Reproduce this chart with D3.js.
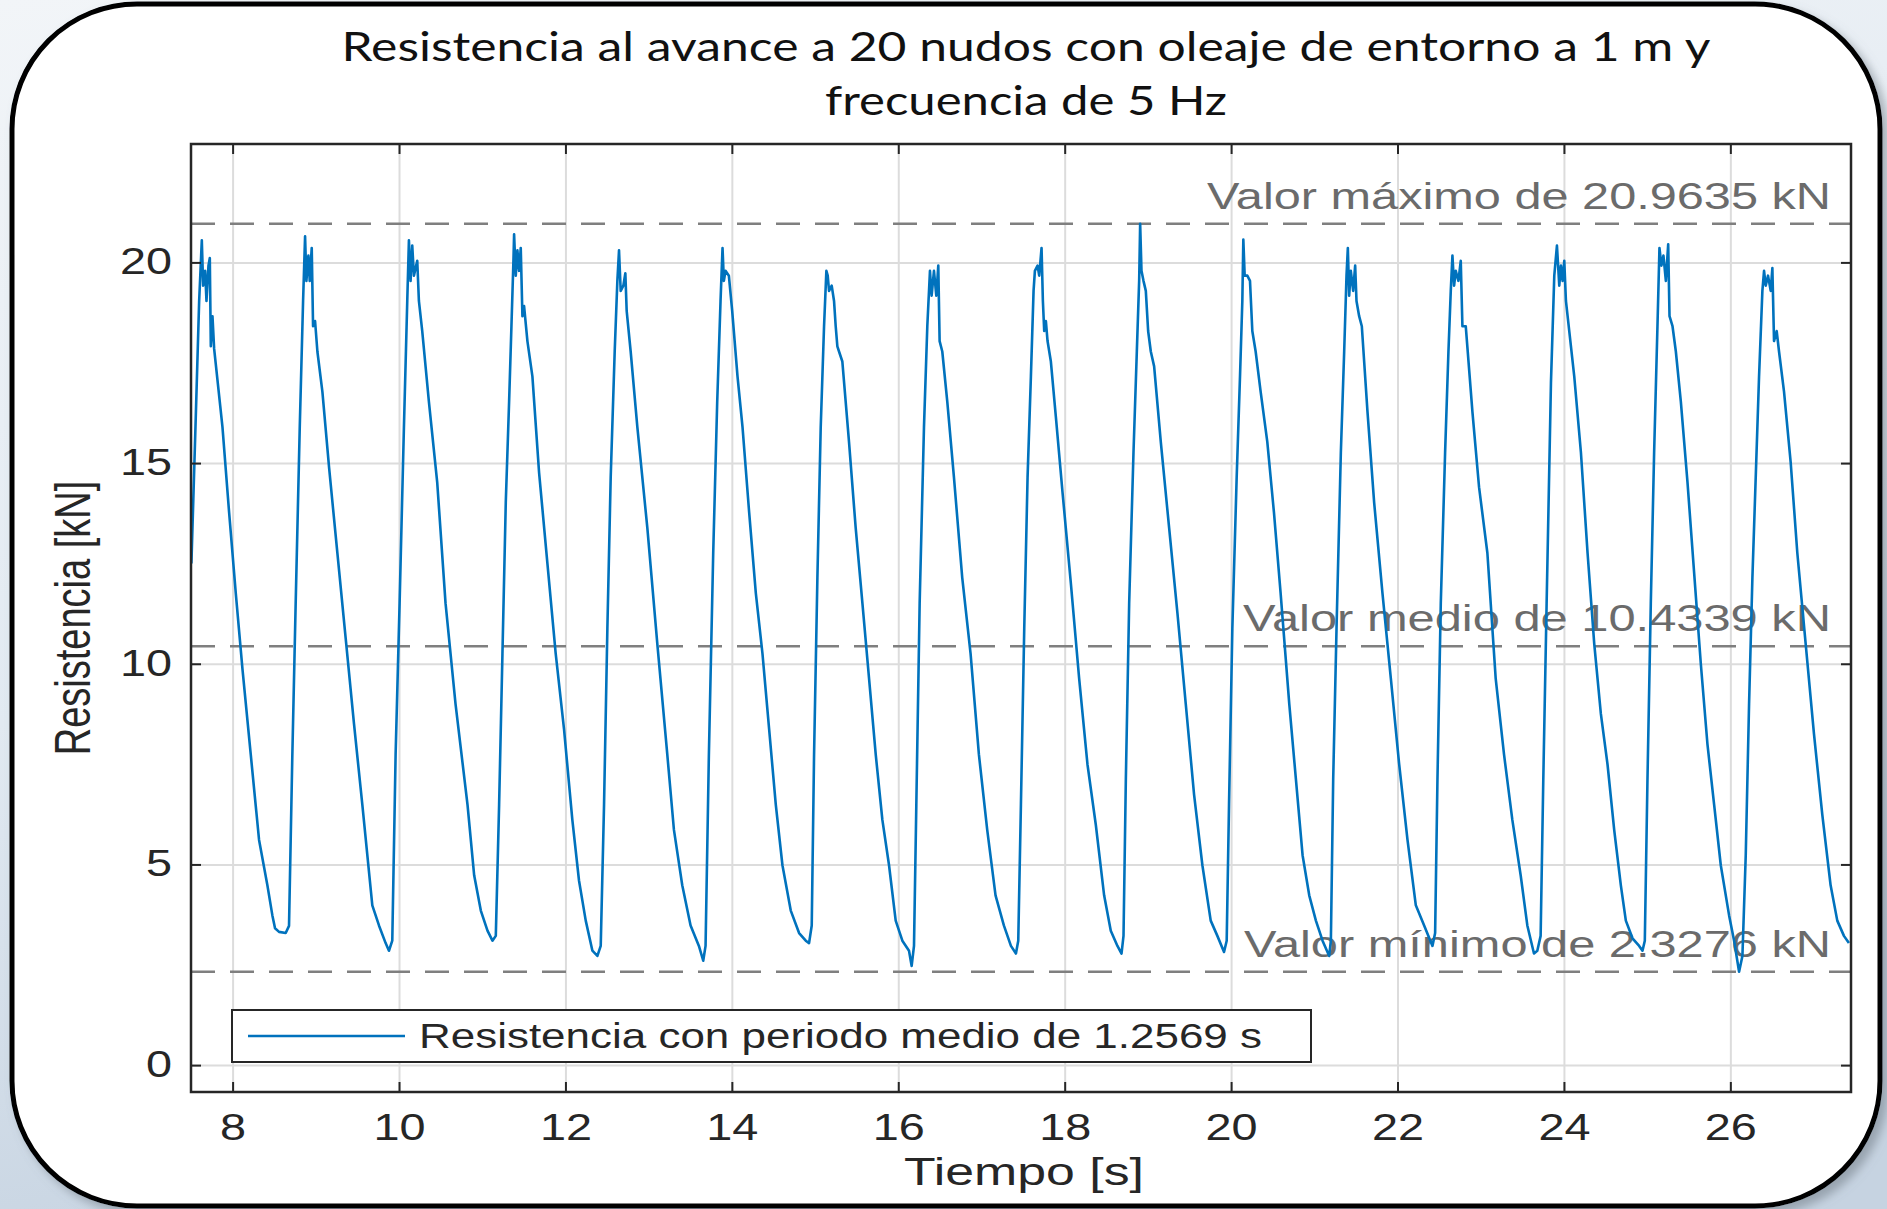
<!DOCTYPE html>
<html>
<head>
<meta charset="utf-8">
<script src="https://cdn.jsdelivr.net/npm/d3@7"></script>
<style>
	html, body { margin: 0; padding: 0; background: #e3eaf1; }
	svg { display: block; }
</style>
</head>
<body>
<svg id="chart"></svg>
<script>
// texts
const titleLines = [
	"Resistencia al avance a 20 nudos con oleaje de entorno a 1 m y",
	"frecuencia de 5 Hz",
];
const xLabel = "Tiempo [s]";
const yLabel = "Resistencia [kN]";
const legendLabel = "Resistencia con periodo medio de 1.2569 s";

// ticks
const xTicks = [8, 10, 12, 14, 16, 18, 20, 22, 24, 26];
const yTicks = [0, 5, 10, 15, 20];

// dashed reference lines
const refValues = [20.9635, 10.4339, 2.3276];
const refLabels = [
	"Valor máximo de 20.9635 kN",
	"Valor medio de 10.4339 kN",
	"Valor mínimo de 2.3276 kN",
];

// [time s, resistance kN], one row per wave cycle
const samples = [
	[7.505, 12.5], [7.558, 16.2], [7.598, 19.04], [7.63, 20.55], [7.646, 19.42], [7.67, 19.79], [7.686, 19.04], [7.71, 19.92], [7.726, 20.11], [7.738, 17.91], [7.758, 18.66], [7.778, 17.85], [7.878, 15.9], [7.958, 13.77], [8.038, 11.76], [8.118, 9.88], [8.218, 7.74], [8.318, 5.61], [8.418, 4.48], [8.478, 3.73], [8.51, 3.41], [8.558, 3.32], [8.638, 3.29], [8.678, 3.47],
	[8.718, 7.74], [8.758, 11.51], [8.807, 15.9], [8.847, 19.04], [8.871, 20.65], [8.887, 19.54], [8.911, 20.17], [8.927, 19.54], [8.951, 20.36], [8.967, 18.41], [8.991, 18.54], [9.019, 17.78], [9.079, 16.78], [9.159, 14.9], [9.259, 12.76], [9.359, 10.63], [9.459, 8.5], [9.559, 6.49], [9.679, 3.98], [9.759, 3.48], [9.839, 3.04], [9.879, 2.85], [9.919, 3.1],
	[9.959, 7.74], [10.007, 11.51], [10.059, 15.9], [10.099, 19.04], [10.119, 20.55], [10.139, 19.54], [10.159, 20.42], [10.179, 19.67], [10.219, 20.04], [10.239, 19.04], [10.279, 18.29], [10.359, 16.53], [10.459, 14.52], [10.559, 11.51], [10.679, 9.0], [10.823, 6.49], [10.903, 4.73], [10.983, 3.85], [11.063, 3.35], [11.123, 3.1], [11.163, 3.22],
	[11.203, 6.49], [11.243, 10.25], [11.283, 14.02], [11.323, 16.53], [11.351, 18.41], [11.375, 20.04], [11.383, 20.7], [11.403, 19.67], [11.423, 20.3], [11.443, 19.79], [11.463, 20.36], [11.483, 18.66], [11.503, 18.91], [11.543, 18.04], [11.603, 17.16], [11.683, 14.77], [11.783, 12.51], [11.883, 10.25], [11.983, 8.37], [12.083, 6.11], [12.163, 4.6], [12.244, 3.6], [12.324, 2.85], [12.384, 2.72], [12.424, 2.97],
	[12.464, 6.49], [12.504, 10.88], [12.544, 14.65], [12.592, 17.78], [12.624, 19.54], [12.644, 20.3], [12.664, 19.29], [12.696, 19.42], [12.72, 19.73], [12.736, 18.79], [12.784, 17.78], [12.864, 15.9], [12.984, 13.39], [13.104, 10.5], [13.224, 7.74], [13.304, 5.86], [13.404, 4.48], [13.504, 3.48], [13.604, 2.97], [13.656, 2.6], [13.684, 2.97],
	[13.724, 7.74], [13.776, 12.76], [13.824, 16.53], [13.864, 19.04], [13.888, 20.36], [13.904, 19.54], [13.924, 19.79], [13.964, 19.67], [14.004, 18.79], [14.068, 17.16], [14.128, 15.9], [14.208, 13.77], [14.288, 11.76], [14.368, 10.25], [14.448, 8.37], [14.528, 6.49], [14.608, 4.98], [14.708, 3.85], [14.808, 3.29], [14.888, 3.1], [14.928, 3.04], [14.96, 3.48],
	[14.988, 7.74], [15.028, 12.14], [15.068, 15.9], [15.108, 18.41], [15.136, 19.79], [15.152, 19.67], [15.168, 19.29], [15.2, 19.42], [15.228, 19.04], [15.248, 18.41], [15.268, 17.91], [15.288, 17.78], [15.328, 17.53], [15.408, 15.53], [15.488, 13.39], [15.569, 11.51], [15.649, 9.63], [15.729, 7.74], [15.809, 6.11], [15.889, 4.98], [15.969, 3.6], [16.049, 3.1], [16.129, 2.85], [16.161, 2.47], [16.189, 2.97],
	[16.217, 6.49], [16.257, 11.51], [16.309, 15.9], [16.349, 18.41], [16.381, 19.79], [16.401, 19.17], [16.429, 19.79], [16.457, 19.17], [16.481, 19.92], [16.497, 18.04], [16.529, 17.78], [16.589, 16.53], [16.669, 14.65], [16.769, 12.14], [16.869, 10.25], [16.969, 7.74], [17.069, 5.86], [17.169, 4.23], [17.269, 3.48], [17.354, 2.97], [17.414, 2.78], [17.442, 3.1],
	[17.474, 6.49], [17.514, 10.88], [17.554, 14.65], [17.594, 17.16], [17.626, 19.29], [17.642, 19.79], [17.674, 19.92], [17.694, 19.67], [17.722, 20.36], [17.738, 19.04], [17.754, 18.29], [17.774, 18.54], [17.794, 18.04], [17.834, 17.53], [17.894, 16.15], [17.974, 14.27], [18.074, 12.01], [18.174, 9.63], [18.274, 7.49], [18.374, 5.99], [18.474, 4.23], [18.554, 3.35], [18.634, 2.97], [18.683, 2.78], [18.707, 3.22],
	[18.735, 7.12], [18.775, 11.51], [18.827, 15.27], [18.867, 17.78], [18.895, 19.54], [18.907, 20.9635], [18.923, 19.79], [18.947, 19.54], [18.975, 19.29], [19.003, 18.29], [19.035, 17.78], [19.075, 17.41], [19.155, 15.53], [19.255, 13.39], [19.355, 11.26], [19.455, 9.0], [19.555, 6.74], [19.655, 4.98], [19.755, 3.6], [19.835, 3.22], [19.915, 2.82], [19.947, 3.1],
	[19.975, 6.49], [20.015, 10.88], [20.067, 14.65], [20.107, 17.16], [20.135, 19.04], [20.147, 20.57], [20.163, 19.67], [20.195, 19.67], [20.227, 19.54], [20.255, 18.29], [20.295, 17.78], [20.355, 16.78], [20.435, 15.53], [20.515, 13.77], [20.595, 11.76], [20.699, 9.0], [20.779, 7.12], [20.859, 5.23], [20.939, 4.23], [21.019, 3.6], [21.099, 3.1], [21.179, 2.72], [21.199, 3.1],
	[21.227, 7.12], [21.267, 10.88], [21.319, 15.27], [21.359, 17.78], [21.387, 19.67], [21.403, 20.36], [21.419, 19.17], [21.439, 19.79], [21.467, 19.29], [21.491, 19.92], [21.507, 19.04], [21.539, 18.66], [21.571, 18.41], [21.639, 16.28], [21.719, 14.02], [21.819, 11.76], [21.92, 9.63], [22.02, 7.49], [22.12, 5.61], [22.22, 3.98], [22.32, 3.48], [22.42, 2.97], [22.452, 3.29],
	[22.48, 7.12], [22.52, 11.51], [22.572, 15.27], [22.612, 17.78], [22.64, 19.29], [22.66, 20.17], [22.68, 19.42], [22.7, 19.79], [22.732, 19.54], [22.76, 20.04], [22.78, 18.41], [22.82, 18.41], [22.9, 16.28], [22.98, 14.4], [23.08, 12.76], [23.18, 9.63], [23.28, 7.74], [23.38, 6.11], [23.48, 4.73], [23.56, 3.48], [23.64, 2.78], [23.68, 2.85], [23.72, 3.22],
	[23.752, 7.12], [23.792, 11.51], [23.844, 17.0], [23.884, 19.67], [23.916, 20.42], [23.944, 19.42], [23.964, 19.92], [23.984, 19.54], [24.004, 20.04], [24.024, 19.04], [24.064, 18.29], [24.124, 17.16], [24.204, 15.27], [24.284, 12.76], [24.364, 10.5], [24.444, 8.75], [24.524, 7.49], [24.604, 5.86], [24.684, 4.48], [24.744, 3.6], [24.824, 3.16], [24.904, 2.97], [24.944, 2.85], [24.972, 3.1],
	[25.004, 7.12], [25.044, 11.51], [25.084, 15.27], [25.124, 18.41], [25.148, 20.36], [25.172, 19.92], [25.196, 20.17], [25.225, 19.54], [25.253, 20.45], [25.269, 18.66], [25.305, 18.41], [25.345, 17.78], [25.405, 16.53], [25.485, 14.52], [25.565, 12.26], [25.645, 10.0], [25.725, 7.99], [25.805, 6.49], [25.885, 4.98], [25.985, 3.73], [26.045, 3.1], [26.105, 2.3276], [26.145, 2.72],
	[26.185, 5.23], [26.225, 9.0], [26.265, 12.14], [26.305, 14.65], [26.345, 17.16], [26.385, 19.29], [26.405, 19.79], [26.425, 19.42], [26.453, 19.67], [26.485, 19.29], [26.505, 19.86], [26.525, 18.04], [26.557, 18.29], [26.585, 17.78], [26.645, 16.78], [26.725, 15.02], [26.805, 12.76], [26.905, 10.5], [27.005, 8.25], [27.105, 6.24], [27.205, 4.48], [27.285, 3.6], [27.365, 3.22], [27.425, 3.04],
];

const W = 1887, H = 1209;
const plot = { left: 191, right: 1851, top: 144, bottom: 1092 };
const stretch = 1.3; // the original picture is widened horizontally
const axisColor = "#262626";
const sans = "'Liberation Sans', Arial, Helvetica, sans-serif";

const svg = d3.select("#chart").attr("width", W).attr("height", H);
const defs = svg.append("defs");

const bg = defs.append("linearGradient").attr("id", "bg").attr("x1", 0).attr("y1", 0).attr("x2", 0.3).attr("y2", 1);
bg.append("stop").attr("offset", "0%").attr("stop-color", "#f2f5f8");
bg.append("stop").attr("offset", "55%").attr("stop-color", "#e1e9f1");
bg.append("stop").attr("offset", "100%").attr("stop-color", "#c6d3e1");

const shadow = defs.append("filter").attr("id", "shadow").attr("x", "-5%").attr("y", "-5%").attr("width", "110%").attr("height", "110%");
shadow.append("feDropShadow").attr("dx", 6).attr("dy", 6).attr("stdDeviation", 5)
	.attr("flood-color", "#6f7b86").attr("flood-opacity", 0.55);

defs.append("clipPath").attr("id", "plotClip").append("rect")
	.attr("x", plot.left).attr("y", plot.top)
	.attr("width", plot.right - plot.left).attr("height", plot.bottom - plot.top);

svg.append("rect").attr("width", W).attr("height", H).attr("fill", "url(#bg)");

// rounded card
svg.append("rect")
	.attr("x", 12).attr("y", 4).attr("width", 1868).attr("height", 1202)
	.attr("rx", 125).attr("ry", 125)
	.attr("fill", "#fff").attr("stroke", "#000").attr("stroke-width", 5)
	.attr("filter", "url(#shadow)");

// title
const titleY = [61, 115];
const titleW = [1369, 402];
titleLines.forEach((t, i) => {
	svg.append("text")
		.attr("x", 1026 - titleW[i] / 2).attr("y", titleY[i])
		.attr("textLength", titleW[i]).attr("lengthAdjust", "spacingAndGlyphs")
		.attr("font-family", "Lato, 'Open Sans', sans-serif")
		.attr("font-size", 41).attr("fill", "#111")
		.text(t);
});

const x = d3.scaleLinear().domain([7.5, 27.45]).range([plot.left, plot.right]);
const y = d3.scaleLinear().domain([-0.67, 22.95]).range([plot.bottom, plot.top]);

svg.append("rect")
	.attr("x", plot.left).attr("y", plot.top)
	.attr("width", plot.right - plot.left).attr("height", plot.bottom - plot.top)
	.attr("fill", "#fff");

// grid
const grid = svg.append("g").attr("class", "grid");
grid.append("g")
	.attr("transform", `translate(0,${plot.bottom})`)
	.call(d3.axisBottom(x).tickValues(xTicks).tickSize(-(plot.bottom - plot.top)).tickFormat(""));
grid.append("g")
	.attr("transform", `translate(${plot.left},0)`)
	.call(d3.axisLeft(y).tickValues(yTicks).tickSize(-(plot.right - plot.left)).tickFormat(""));
grid.selectAll(".domain").remove();
grid.selectAll("line").attr("stroke", "#dcdcdc").attr("stroke-width", 2);

// reference lines and their labels
const refs = svg.append("g");
refValues.forEach((v, i) => {
	refs.append("line")
		.attr("x1", plot.left).attr("x2", plot.right)
		.attr("y1", y(v)).attr("y2", y(v))
		.attr("stroke", "#7f7f7f").attr("stroke-width", 2.5)
		.attr("stroke-dasharray", "24 15");
});
const refW = [624, 588, 587];
refLabels.forEach((t, i) => {
	refs.append("text")
		.attr("x", plot.right - 20 - refW[i]).attr("y", y(refValues[i]) - 15)
		.attr("textLength", refW[i]).attr("lengthAdjust", "spacingAndGlyphs")
		.attr("font-family", sans).attr("font-size", 36).attr("fill", "#6b6b6b")
		.text(t);
});

// resistance signal
svg.append("path")
	.datum(samples)
	.attr("clip-path", "url(#plotClip)")
	.attr("fill", "none")
	.attr("stroke", "#0072bd")
	.attr("stroke-width", 2.6)
	.attr("stroke-linejoin", "round")
	.attr("d", d3.line().x((d) => x(d[0])).y((d) => y(d[1])));

// axes, MATLAB style box with inward ticks
const tickFont = 36;
const xAxis = svg.append("g")
	.attr("transform", `translate(0,${plot.bottom})`)
	.call(d3.axisBottom(x).tickValues(xTicks).tickSizeInner(-10).tickSizeOuter(0).tickPadding(22).tickFormat(d3.format("d")));
const yAxis = svg.append("g")
	.attr("transform", `translate(${plot.left},0)`)
	.call(d3.axisLeft(y).tickValues(yTicks).tickSizeInner(-10).tickSizeOuter(0).tickPadding(19 / stretch).tickFormat(d3.format("d")));
const xTop = svg.append("g")
	.attr("transform", `translate(0,${plot.top})`)
	.call(d3.axisTop(x).tickValues(xTicks).tickSizeInner(-10).tickSizeOuter(0).tickFormat(""));
const yRight = svg.append("g")
	.attr("transform", `translate(${plot.right},0)`)
	.call(d3.axisRight(y).tickValues(yTicks).tickSizeInner(-10).tickSizeOuter(0).tickFormat(""));

[xAxis, yAxis, xTop, yRight].forEach((g) => {
	g.select(".domain").remove();
	g.selectAll("line").attr("stroke", axisColor).attr("stroke-width", 2);
	g.selectAll("text")
		.attr("font-family", sans).attr("font-size", tickFont)
		.attr("fill", axisColor)
		.attr("transform", `scale(${stretch},1)`);
});

svg.append("rect")
	.attr("x", plot.left).attr("y", plot.top)
	.attr("width", plot.right - plot.left).attr("height", plot.bottom - plot.top)
	.attr("fill", "none").attr("stroke", axisColor).attr("stroke-width", 2.5);

// axis labels
svg.append("text")
	.attr("x", 1024 - 120).attr("y", 1185)
	.attr("textLength", 240).attr("lengthAdjust", "spacingAndGlyphs")
	.attr("font-family", sans).attr("font-size", 38).attr("fill", axisColor)
	.text(xLabel);
svg.append("text")
	.attr("transform", `translate(90,${(plot.top + plot.bottom) / 2}) scale(${stretch},1) rotate(-90)`)
	.attr("text-anchor", "middle")
	.attr("font-family", sans).attr("font-size", 38).attr("fill", axisColor)
	.text(yLabel);

// legend
const legend = svg.append("g");
legend.append("rect")
	.attr("x", 232).attr("y", 1010).attr("width", 1079).attr("height", 52)
	.attr("fill", "#fff").attr("stroke", axisColor).attr("stroke-width", 2);
legend.append("line")
	.attr("x1", 248).attr("x2", 405).attr("y1", 1036).attr("y2", 1036)
	.attr("stroke", "#0072bd").attr("stroke-width", 2.4);
legend.append("text")
	.attr("x", 419).attr("y", 1048)
	.attr("textLength", 843).attr("lengthAdjust", "spacingAndGlyphs")
	.attr("font-family", sans).attr("font-size", 35).attr("fill", axisColor)
	.text(legendLabel);
</script>
</body>
</html>
